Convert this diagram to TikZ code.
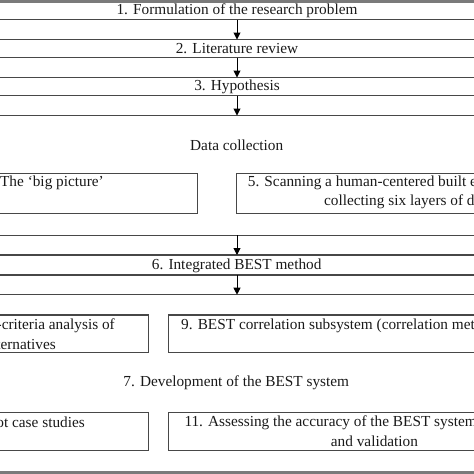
\documentclass[tikz,border=0pt]{standalone}
\usepackage{fontspec}
\setmainfont{Liberation Serif}
\usetikzlibrary{arrows.meta}
\tikzset{
  box/.style={draw=black!72, line width=1.2pt, rectangle, inner sep=0pt, outer sep=0pt},
  lbl/.style={inner sep=0pt, font=\fontsize{15.3}{18}\selectfont, text=black!90},
  flow/.style={draw=black, line width=1pt, -{Triangle[length=7pt,width=7pt]}},
  band/.style={fill=black!52, draw=none}
}
\begin{document}
\begin{tikzpicture}[x=1pt,y=-1pt]
\useasboundingbox (0,0) rectangle (474,474);
\clip (0,0) rectangle (474,474);
% full-width boxes
\node[box, minimum width=514pt, minimum height=18pt] (b1) at (237,10.5) {};
\node[box, minimum width=514pt, minimum height=18pt] (b2) at (237,48.5) {};
\node[box, minimum width=514pt, minimum height=18pt] (b3) at (237,86.5) {};
\node[box, minimum width=514pt, minimum height=119.8pt] (dc) at (237,175.4) {};
\node[box, minimum width=514pt, minimum height=20pt] (b6) at (237,265) {};
\node[box, minimum width=514pt, minimum height=178pt] (dev) at (237,383.7) {};
% inner boxes
\node[box, minimum width=217.7pt, minimum height=40pt] (b4) at (88.85,193.3) {};
\node[box, minimum width=283.3pt, minimum height=40pt] (b5) at (378.35,193.3) {};
\node[box, minimum width=168.3pt, minimum height=37.7pt] (b8) at (64.15,333.85) {};
\node[box, minimum width=351.7pt, minimum height=37.7pt] (b9) at (344.15,333.85) {};
\node[box, minimum width=168.3pt, minimum height=38.4pt] (b10) at (64.15,431.5) {};
\node[box, minimum width=351.7pt, minimum height=38.4pt] (b11) at (344.15,431.5) {};
% texts
\node[lbl] (t1) at (237,10.5) {1. Formulation of the research problem};
\node[lbl] (t2) at (237,48.5) {2. Literature review};
\node[lbl] (t3) at (237,86.5) {3. Hypothesis};
\node[lbl] (tdc) at (236.7,145) {Data collection};
\node[lbl, anchor=east] (t4) at (104,183) {4. The ‘big picture’};
\node[lbl, anchor=west] (t5a) at (247.7,183) {5. Scanning a human-centered built environment and};
\node[lbl, anchor=west] (t5b) at (324,202) {collecting six layers of data};
\node[lbl] (t6) at (236.7,265.5) {6. Integrated BEST method};
\node[lbl, anchor=east] (t8a) at (115,326) {8. Multiple-criteria analysis of};
\node[lbl, anchor=east] (t8b) at (56,344) {alternatives};
\node[lbl, anchor=west] (t9) at (181,326) {9. BEST correlation subsystem (correlation method)};
\node[lbl] (t7) at (236.3,383) {7. Development of the BEST system};
\node[lbl, anchor=east] (t10) at (85,422.5) {10. Pilot case studies};
\node[lbl, anchor=west] (t11a) at (184.3,422.5) {11. Assessing the accuracy of the BEST system};
\node[lbl, anchor=west] (t11b) at (330.7,441) {and validation};
% arrows
\draw[flow] (b1.south) -- (b2.north);
\draw[flow] (b2.south) -- (b3.north);
\draw[flow] (b3.south) -- (dc.north);
\draw[flow] (dc.south) -- (b6.north);
\draw[flow] (b6.south) -- (dev.north);
% frame bands
\fill[band] (0,0) rectangle (474,2.5);
\fill[band] (0,471) rectangle (474,474);
\end{tikzpicture}
\end{document}
